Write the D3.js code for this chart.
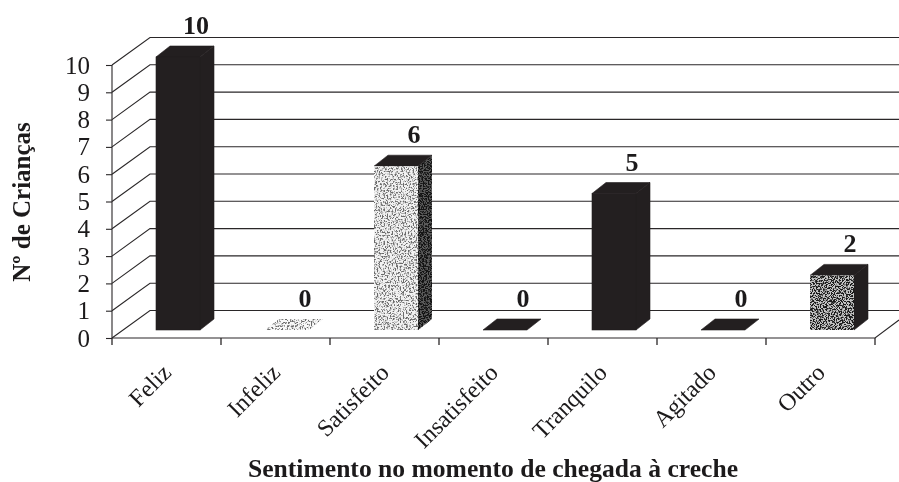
<!DOCTYPE html>
<html><head><meta charset="utf-8">
<script src="https://cdnjs.cloudflare.com/ajax/libs/d3/7.8.5/d3.min.js"></script>
<style>
html,body{margin:0;padding:0;background:#fff}
svg{display:block}
text{font-family:"Liberation Serif",serif;fill:#1c1a1b}
</style></head><body>
<svg id="c" width="899" height="482"></svg>
<script>
const categories=["Feliz","Infeliz","Satisfeito","Insatisfeito","Tranquilo","Agitado","Outro"];
const values=[10,0,6,0,5,0,2];
const fronts=["#231f20","#f8f8f8","#f2f2f2","#231f20","#231f20","#231f20","#c4c4c4"];
const speckles=[null,"speckLight","speckLight",null,null,null,"speckMid"];
const yTicks=[0,1,2,3,4,5,6,7,8,9,10];
const yTitle="Nº de Crianças";
const xTitle="Sentimento no momento de chegada à creche";

const svg=d3.select("#c");
const defs=svg.append("defs");
function speck(id,k,o,freq,col,seed){
  const f=defs.append("filter").attr("id",id).attr("x","0").attr("y","0").attr("width","1").attr("height","1")
    .attr("color-interpolation-filters","sRGB");
  f.append("feTurbulence").attr("type","fractalNoise").attr("baseFrequency",freq).attr("numOctaves",2).attr("seed",seed);
  f.append("feColorMatrix").attr("values",`0 0 0 0 ${col} 0 0 0 0 ${col} 0 0 0 0 ${col} ${k} 0 0 0 ${o}`);
  f.append("feComposite").attr("in2","SourceAlpha").attr("operator","in").attr("result","n");
  const m=f.append("feMerge");
  m.append("feMergeNode").attr("in","SourceGraphic");
  m.append("feMergeNode").attr("in","n");
}
speck("speckLight",6,-2.9,.62,.42,4);
speck("speckMid",9,-4.1,.73,.1,7);
speck("speckDark",8,-3.5,.77,.08,11);
const rough=defs.append("filter").attr("id","rough").attr("filterUnits","userSpaceOnUse")
  .attr("x",0).attr("y",0).attr("width",899).attr("height",482).attr("color-interpolation-filters","sRGB");
rough.append("feTurbulence").attr("type","fractalNoise").attr("baseFrequency",.35).attr("numOctaves",1).attr("seed",9).attr("result","t");
rough.append("feDisplacementMap").attr("in","SourceGraphic").attr("in2","t").attr("scale",1.1);
rough.append("feGaussianBlur").attr("stdDeviation",.35);

const root=svg.append("g").attr("filter","url(#rough)");

const wallDx=38, wallDy=-27.5;
const y=d3.scaleLinear().domain([0,10]).range([338,65]);
const x=d3.scaleBand().domain(categories).range([112,875]);
const barLeft=44, barW=44, depthX=14, depthY=-11, floorLift=8;
const ink="#2a2728";

// walls and gridlines
const g=root.append("g").attr("fill","none").attr("stroke",ink).attr("stroke-width",1.1);
const path=d3.line();
g.selectAll("path.grid").data(yTicks).join("path").attr("class","grid")
  .attr("d",d=>path([[112,y(d)],[112+wallDx,y(d)+wallDy],[899,y(d)+wallDy]]));
g.append("path").attr("d",path([[112,y(10)],[112,y(0)],[875,y(0)],[899,y(0)-18]]));

// axes
const yAxis=d3.axisLeft(y).tickValues(yTicks).tickSize(6).tickPadding(16).tickFormat(d3.format("d"));
const ya=root.append("g").attr("transform","translate(112,0)").call(yAxis);
ya.select(".domain").remove();
ya.selectAll("line").attr("stroke",ink).attr("stroke-width",1.1);
ya.selectAll("text").attr("font-size",25).attr("font-family",'"Liberation Serif",serif').attr("fill","#1c1a1b");

const xa=root.append("g").attr("transform",`translate(0,${y(0)})`).call(
  d3.axisBottom(x).tickSize(0));
xa.select(".domain").remove();
xa.selectAll("text").attr("font-size",24).attr("font-family",'"Liberation Serif",serif').attr("fill","#1c1a1b")
  .attr("text-anchor","end").attr("x",0).attr("y",0).attr("dy",0)
  .attr("transform","translate(6,36) rotate(-45)");
root.append("g").selectAll("line").data(d3.range(categories.length+1)).join("line")
  .attr("x1",i=>x.range()[0]+i*x.step()).attr("x2",i=>x.range()[0]+i*x.step())
  .attr("y1",y(0)).attr("y2",y(0)+7).attr("stroke",ink).attr("stroke-width",1.3);

// bars
const bars=root.append("g").selectAll("g").data(categories.map((c,i)=>({c,i,v:values[i]}))).join("g");
const bx=d=>x(d.c)+barLeft;
const by0=y(0)-floorLift;
const barTop=d=>by0-(y(0)-y(d.v));
const dark="#231f20";
bars.filter(d=>d.v>0).append("path")
  .attr("fill",d=>d.i===2?"#5a5a5a":dark).attr("stroke",d=>d.i===2?null:dark).attr("stroke-width",.6)
  .attr("filter",d=>d.i===2?"url(#speckDark)":null)
  .attr("d",d=>{const a=bx(d)+barW,t=barTop(d);return path([[a,t],[a+depthX,t+depthY],[a+depthX,by0+depthY],[a,by0]])+"Z";});
bars.append("path")
  .attr("fill",d=>d.v?dark:fronts[d.i]).attr("stroke",d=>(!d.v&&speckles[d.i])?null:dark).attr("stroke-width",.6)
  .attr("filter",d=>(!d.v&&speckles[d.i])?`url(#${speckles[d.i]})`:null)
  .attr("d",d=>{const a=bx(d),t=barTop(d);return path([[a,t],[a+depthX,t+depthY],[a+barW+depthX,t+depthY],[a+barW,t]])+"Z";});
bars.filter(d=>d.v>0).append("rect")
  .attr("x",bx).attr("y",barTop).attr("width",barW).attr("height",d=>by0-barTop(d))
  .attr("fill",d=>fronts[d.i]).attr("stroke",d=>speckles[d.i]?null:dark).attr("stroke-width",.6)
  .attr("filter",d=>speckles[d.i]?`url(#${speckles[d.i]})`:null);

// value labels
bars.append("text").attr("x",d=>bx(d)+40).attr("y",d=>barTop(d)+depthY-12)
  .attr("text-anchor","middle").attr("font-size",26).attr("font-weight","bold").text(d=>d.v);

// titles
root.append("text").attr("x",493).attr("y",477).attr("text-anchor","middle")
  .attr("font-size",25.6).attr("font-weight","bold").text(xTitle);
root.append("text").attr("transform","translate(30,202) rotate(-90)").attr("text-anchor","middle")
  .attr("font-size",25).attr("font-weight","bold").text(yTitle);
</script></body></html>
